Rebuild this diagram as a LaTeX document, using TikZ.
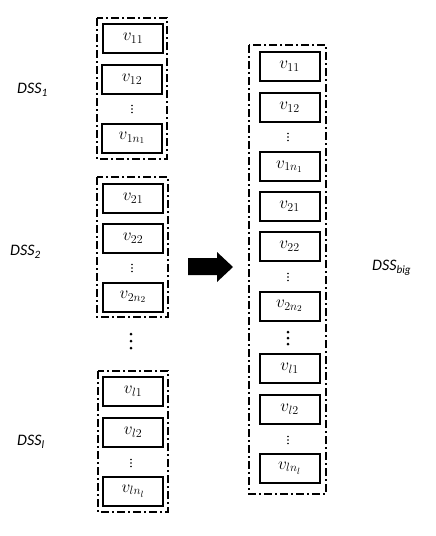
\documentclass[tikz,border=0pt]{standalone}
\usepackage{fontspec}
\newfontfamily\calib{Carlito}
\begin{document}
\begin{tikzpicture}[x=1pt,y=-1pt,
  vbox/.style={draw,line width=2pt,minimum width=60pt,minimum height=29pt,inner sep=0pt,font=\fontsize{18}{21}\selectfont},
  group/.style={draw,line width=2pt,dash pattern=on 8pt off 3pt on 2pt off 3pt},
  lab/.style={font=\calib\itshape\fontsize{16}{19}\selectfont,anchor=west,inner sep=0pt},
  sdot/.style={fill,circle,inner sep=0pt,minimum size=1.7pt},
  bdot/.style={fill,circle,inner sep=0pt,minimum size=3pt}]
\useasboundingbox (0,0) rectangle (436,536);
% left column
\draw[group] (97,18) rectangle (167,159);
\node[vbox] (a11) at (133,38) {$v_{11}$};
\node[vbox] (a12) at (132,79) {$v_{12}$};
\node[vbox] (a1n) at (132,138) {$v_{1n_1}$};
\foreach \d in {-3.5,0,3.5}{\node[sdot] at (132,109+\d) {};}
\draw[group] (97,177) rectangle (168,317);
\node[vbox] (a21) at (133,198) {$v_{21}$};
\node[vbox] (a22) at (133,238) {$v_{22}$};
\node[vbox] (a2n) at (133,297) {$v_{2n_2}$};
\foreach \d in {-3.5,0,3.5}{\node[sdot] at (132,268+\d) {};}
\foreach \d in {-7,0,7}{\node[bdot] at (131,341+\d) {};}
\draw[group] (98,371) rectangle (168,512);
\node[vbox] (al1) at (133,391.5) {$v_{l1}$};
\node[vbox] (al2) at (133,432) {$v_{l2}$};
\node[vbox] (aln) at (133,491) {$v_{ln_l}$};
\foreach \d in {-3.5,0,3.5}{\node[sdot] at (131,463+\d) {};}
\node[lab] (d1) at (17,90) {DSS\textsubscript{1}};
\node[lab] (d2) at (10,252) {DSS\textsubscript{2}};
\node[lab] (dl) at (17,442) {DSS\textsubscript{l}};
% arrow
\fill (188,258) -- (217,258) -- (217,252) -- (233,267) -- (217,282) -- (217,275) -- (188,275) -- cycle;
% right column
\draw[group] (249,45) rectangle (326,494);
\node[vbox] (b11) at (289.5,66.5) {$v_{11}$};
\node[vbox] (b12) at (289.5,107) {$v_{12}$};
\foreach \d in {-3.5,0,3.5}{\node[sdot] at (288,137+\d) {};}
\node[vbox] (b1n) at (289.5,166.5) {$v_{1n_1}$};
\node[vbox] (b21) at (289.5,206.5) {$v_{21}$};
\node[vbox] (b22) at (289.5,246.5) {$v_{22}$};
\foreach \d in {-3.5,0,3.5}{\node[sdot] at (288,277+\d) {};}
\node[vbox] (b2n) at (289.5,306) {$v_{2n_2}$};
\foreach \d in {-6,0,6}{\node[bdot] at (288,338+\d) {};}
\node[vbox] (bl1) at (289.5,368.5) {$v_{l1}$};
\node[vbox] (bl2) at (289.5,409.5) {$v_{l2}$};
\foreach \d in {-3.5,0,3.5}{\node[sdot] at (288,440+\d) {};}
\node[vbox] (bln) at (289.5,468) {$v_{ln_l}$};
\node[lab] (db) at (372,268) {DSS\textsubscript{big}};
\end{tikzpicture}
\end{document}
